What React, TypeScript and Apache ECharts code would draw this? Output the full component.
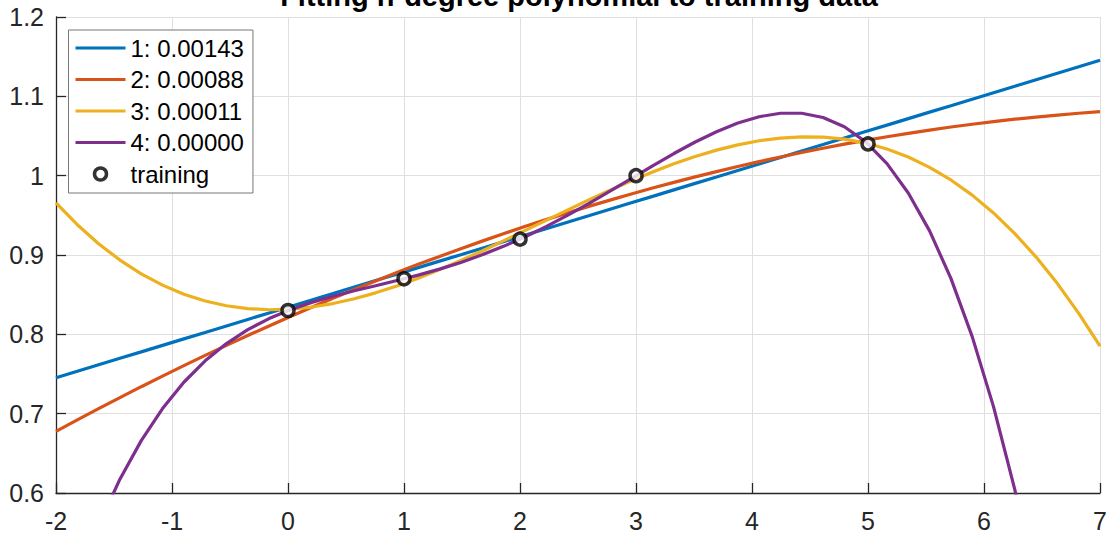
import React, { useEffect, useRef } from 'react';
import * as echarts from 'echarts';

// sample positions along x
const xs = [-2, -1.8163, -1.6327, -1.449, -1.2653, -1.0816, -0.898, -0.7143, -0.5306, -0.3469, -0.1633, 0.0204, 0.2041, 0.3878, 0.5714, 0.7551, 0.9388, 1.1224, 1.3061, 1.4898, 1.6735, 1.8571, 2.0408, 2.2245, 2.4082, 2.5918, 2.7755, 2.9592, 3.1429, 3.3265, 3.5102, 3.6939, 3.8776, 4.0612, 4.2449, 4.4286, 4.6122, 4.7959, 4.9796, 5.1633, 5.3469, 5.5306, 5.7143, 5.898, 6.0816, 6.2653, 6.449, 6.6327, 6.8163, 7];

const deg1 = [0.7453, 0.7534, 0.7616, 0.7698, 0.7779, 0.7861, 0.7943, 0.8024, 0.8106, 0.8188, 0.8269, 0.8351, 0.8433, 0.8514, 0.8596, 0.8678, 0.8759, 0.8841, 0.8923, 0.9004, 0.9086, 0.9168, 0.9249, 0.9331, 0.9413, 0.9494, 0.9576, 0.9658, 0.9739, 0.9821, 0.9903, 0.9984, 1.0066, 1.0147, 1.0229, 1.0311, 1.0392, 1.0474, 1.0556, 1.0637, 1.0719, 1.0801, 1.0882, 1.0964, 1.1046, 1.1127, 1.1209, 1.1291, 1.1372, 1.1454];

const deg2 = [0.6777, 0.6922, 0.7064, 0.7203, 0.734, 0.7474, 0.7606, 0.7735, 0.7861, 0.7985, 0.8106, 0.8225, 0.8341, 0.8454, 0.8565, 0.8673, 0.8779, 0.8882, 0.8982, 0.908, 0.9175, 0.9268, 0.9358, 0.9446, 0.953, 0.9613, 0.9692, 0.9769, 0.9844, 0.9916, 0.9985, 1.0051, 1.0115, 1.0177, 1.0236, 1.0292, 1.0346, 1.0397, 1.0445, 1.0491, 1.0534, 1.0575, 1.0613, 1.0648, 1.0681, 1.0712, 1.0739, 1.0764, 1.0787, 1.0807];

const deg3 = [0.9658, 0.9382, 0.9142, 0.8936, 0.8763, 0.862, 0.8506, 0.842, 0.836, 0.8324, 0.831, 0.8317, 0.8344, 0.8388, 0.8448, 0.8523, 0.861, 0.8708, 0.8816, 0.8931, 0.9051, 0.9178, 0.9307, 0.9437, 0.9566, 0.9694, 0.9817, 0.9936, 1.0047, 1.0149, 1.0242, 1.0322, 1.0388, 1.044, 1.0474, 1.049, 1.0486, 1.046, 1.0411, 1.0336, 1.0235, 1.0105, 0.9946, 0.9755, 0.953, 0.927, 0.8974, 0.864, 0.8265, 0.785];

const deg4 = [0.41, 0.4906, 0.5593, 0.6174, 0.666, 0.7064, 0.7396, 0.7666, 0.7884, 0.8059, 0.8199, 0.8311, 0.8403, 0.848, 0.8549, 0.8613, 0.8678, 0.8746, 0.8822, 0.8906, 0.9002, 0.9109, 0.9227, 0.9358, 0.9499, 0.9648, 0.9805, 0.9964, 1.0124, 1.0279, 1.0424, 1.0554, 1.0663, 1.0743, 1.0787, 1.0787, 1.0733, 1.0616, 1.0426, 1.0152, 0.9782, 0.9304, 0.8705, 0.7971, 0.7089, 0.6042, 0.4817, 0.3396, 0.1763, -0.01];

const trainX = [0, 1, 2, 3, 5];
const trainY = [0.83, 0.87, 0.92, 1.0, 1.04];

const seriesNames = ['1: 0.00143', '2: 0.00088', '3: 0.00011', '4: 0.00000'];
const seriesColors = ['#0072BD', '#D95319', '#EDB120', '#7E2F8E'];
const trainName = 'training';
const titleText = 'Fitting n-degree polynomial to training data';

export default function App() {
  const ref = useRef<HTMLDivElement>(null);
  useEffect(() => {
    const chart = echarts.init(ref.current as HTMLDivElement, null, { renderer: 'svg' });
    const font = '"Liberation Sans", Arial, Helvetica, sans-serif';
    const fits = [deg1, deg2, deg3, deg4];
    const lineSeries = fits.map((ys, i) => ({
      name: seriesNames[i],
      type: 'line',
      data: xs.map((x, j) => [x, ys[j]]),
      symbol: 'none',
      showSymbol: false,
      clip: true,
      z: 2,
      lineStyle: { width: 3.2, color: seriesColors[i] },
      itemStyle: { color: seriesColors[i] },
    }));
    chart.setOption({
      animation: false,
      backgroundColor: '#fff',
      grid: { left: 56, right: 8, top: 17, bottom: 40, containLabel: false },
      graphic: [
        {
          type: 'text',
          x: 579,
          y: -4.5,
          z: 100,
          style: {
            text: titleText,
            fontSize: 29,
            fontWeight: 'bold',
            fontFamily: font,
            fill: '#000',
            align: 'center',
            verticalAlign: 'middle',
          },
        },
      ],
      legend: {
        orient: 'vertical',
        left: 68.5,
        top: 30,
        itemWidth: 50,
        itemHeight: 12,
        itemGap: 7.5,
        padding: [6, 9, 7, 7],
        backgroundColor: '#fff',
        borderColor: '#777',
        borderWidth: 1,
        textStyle: { fontSize: 24, fontFamily: font, color: '#000' },
        data: [
          ...seriesNames.map((n) => ({ name: n, icon: 'path://M0 0H50V3.2H0Z' })),
          {
            name: trainName,
            icon: 'circle',
            itemStyle: { color: '#fff', borderColor: '#000', borderWidth: 3.5 },
          },
        ],
      },
      xAxis: {
        type: 'value',
        min: -2,
        max: 7,
        interval: 1,
        axisLine: { onZero: false, lineStyle: { color: '#262626', width: 1.3 } },
        axisTick: { inside: true, length: 10, lineStyle: { color: '#262626', width: 1.3 } },
        axisLabel: { fontSize: 25, color: '#262626', fontFamily: font, margin: 15 },
        splitLine: { show: true, lineStyle: { color: '#dfdfdf', width: 1 } },
      },
      yAxis: {
        type: 'value',
        min: 0.6,
        max: 1.2,
        interval: 0.1,
        axisLine: { onZero: false, show: true, lineStyle: { color: '#262626', width: 1.3 } },
        axisTick: { show: true, inside: true, length: 10, lineStyle: { color: '#262626', width: 1.3 } },
        axisLabel: { fontSize: 25, color: '#262626', fontFamily: font, margin: 12 },
        splitLine: { show: true, lineStyle: { color: '#dfdfdf', width: 1 } },
      },
      series: [
        ...lineSeries,
        {
          name: trainName,
          type: 'scatter',
          data: trainX.map((x, i) => [x, trainY[i]]),
          symbol: 'circle',
          symbolSize: 12,
          z: 5,
          itemStyle: { color: '#fff', borderColor: '#000', borderWidth: 3.5 },
        },
      ],
    });
    return () => chart.dispose();
  }, []);
  return (
    <div
      ref={ref}
      style={{ position: 'fixed', left: 0, top: 0, width: 1110, height: 533, background: '#fff' }}
    />
  );
}
